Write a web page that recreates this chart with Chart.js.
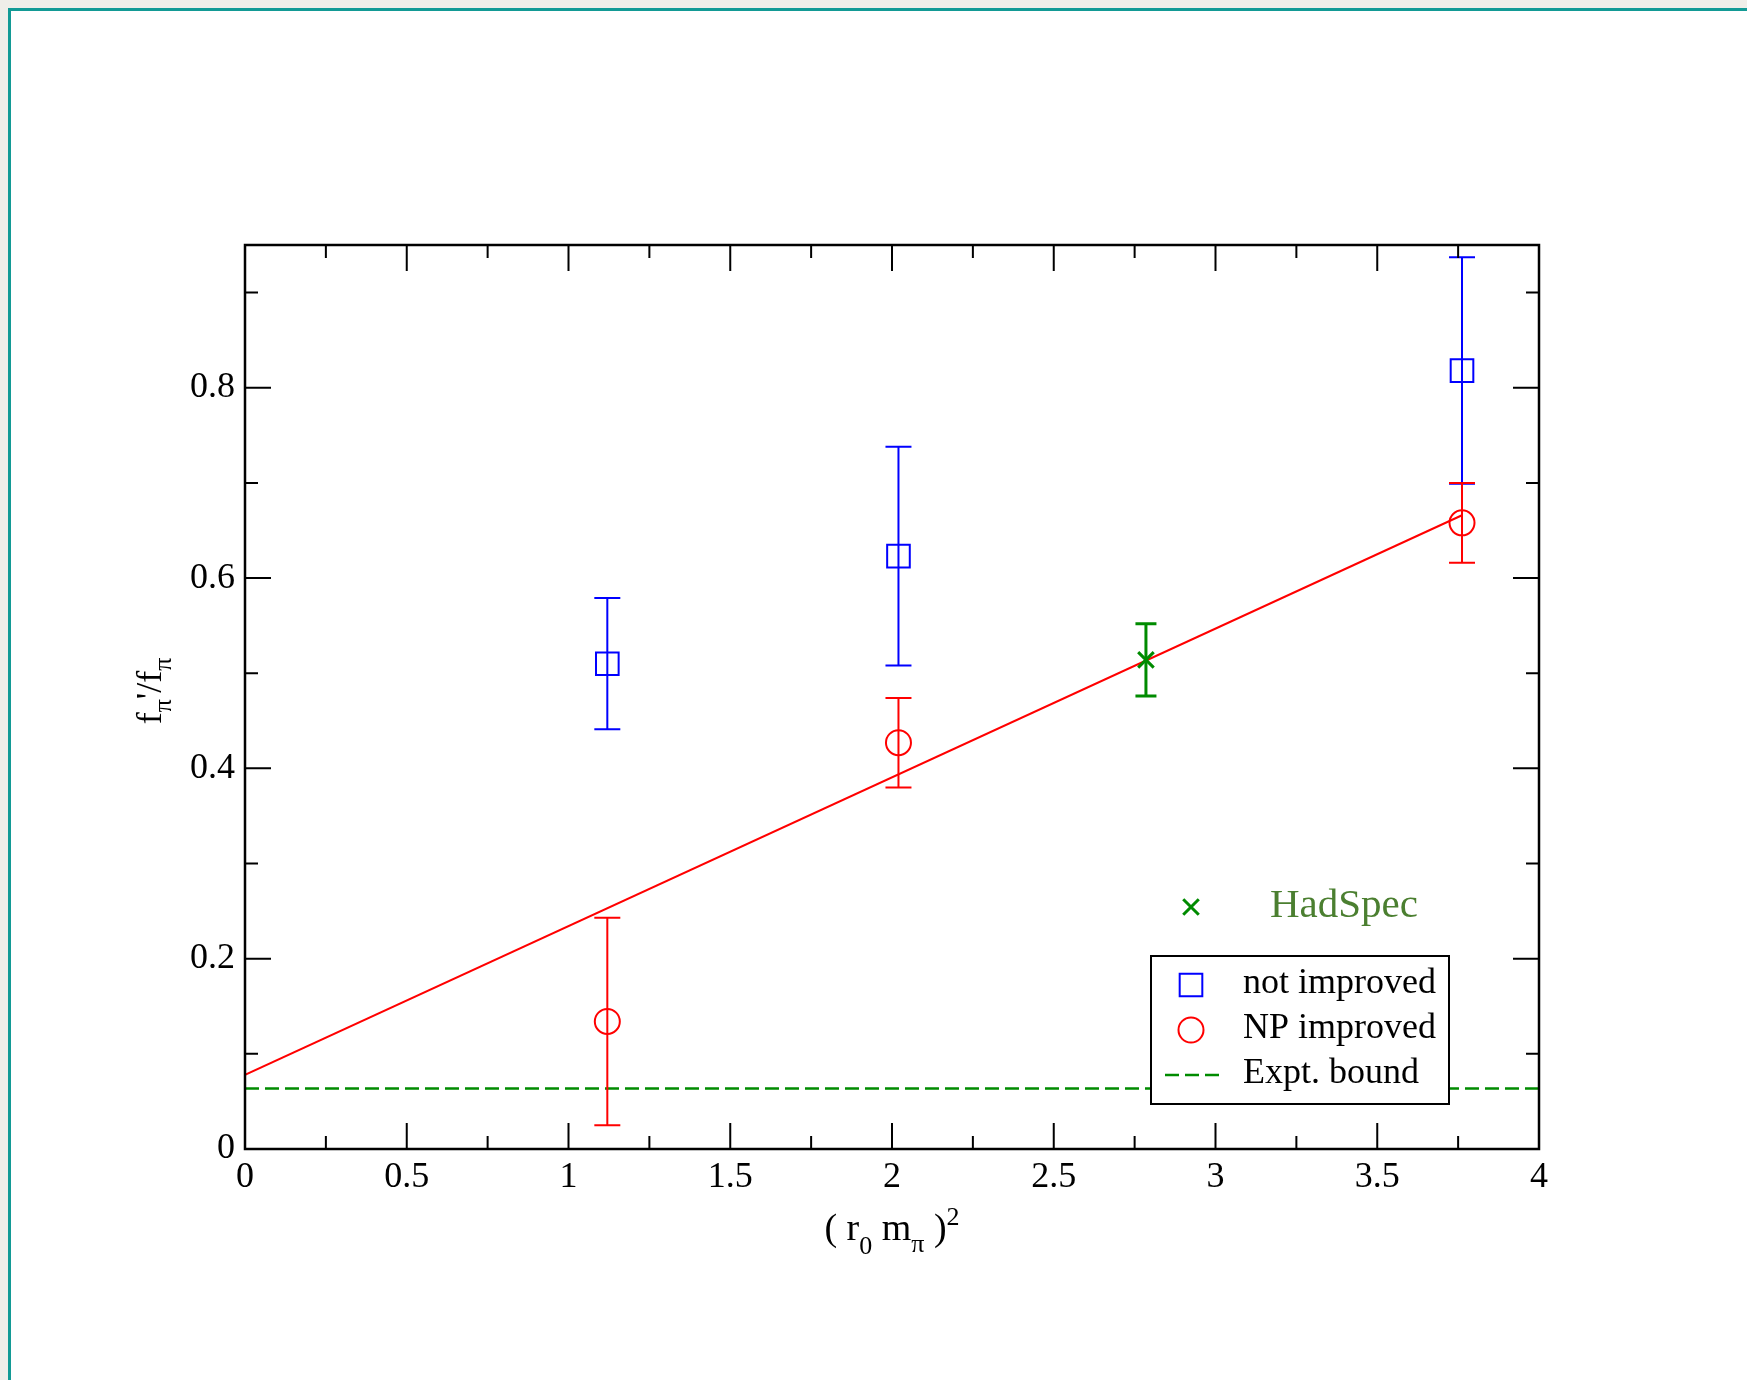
<!DOCTYPE html>
<html><head><meta charset="utf-8">
<script src="https://cdn.jsdelivr.net/npm/chart.js@4.4.0/dist/chart.umd.min.js"></script>
<style>
html,body{margin:0;padding:0;background:#f0eee9;width:1747px;height:1380px;overflow:hidden;}
#frame{position:absolute;left:8px;top:8px;width:1800px;height:1450px;background:#fff;border-left:3px solid #139a95;border-top:3px solid #139a95;}
#wrap{position:absolute;left:0;top:0;width:1747px;height:1380px;}
</style></head><body>
<div id="frame"></div>
<div id="wrap"><canvas id="c" width="1747" height="1380"></canvas></div>
<script>
// ---- data ----
const xTicks = [0, 0.5, 1, 1.5, 2, 2.5, 3, 3.5, 4];
const xMinorTicks = [0.25, 0.75, 1.25, 1.75, 2.25, 2.75, 3.25, 3.75];
const yTicks = [0, 0.2, 0.4, 0.6, 0.8];
const yMinorTicks = [0.1, 0.3, 0.5, 0.7, 0.9];

const notImprovedX = [1.12, 2.02, 3.762];
const notImprovedY = [0.510, 0.623, 0.818];
const notImprovedErr = [0.069, 0.115, 0.119];

const npImprovedX = [1.12, 2.02, 3.762];
const npImprovedY = [0.134, 0.427, 0.658];
const npImprovedErr = [0.109, 0.047, 0.042];

const hadSpecX = [2.785];
const hadSpecY = [0.514];
const hadSpecErr = [0.038];

const fitX = [0, 3.762];
const fitY = [0.078, 0.666];

const exptX = [0, 4];
const exptY = [0.0635, 0.0635];

const legendLabels = ['not improved', 'NP improved', 'Expt. bound'];
const annotationLabel = 'HadSpec';

// ---- helpers ----
const FONT = "'Liberation Serif', 'DejaVu Serif', serif";
const pts = (xs, ys) => xs.map((x, i) => ({x: x, y: ys[i]}));
const GREEN = '#008b00';

const errorBarPlugin = {
  id: 'errbars',
  afterDatasetsDraw(chart) {
    const {ctx, scales: {x, y}} = chart;
    chart.data.datasets.forEach(ds => {
      if (!ds.errors) return;
      ctx.save();
      ctx.strokeStyle = ds.borderColor;
      ctx.lineWidth = ds.errWidth || 2;
      const cw = ds.capWidth || 26;
      ds.data.forEach((p, i) => {
        const px = x.getPixelForValue(p.x);
        const top = y.getPixelForValue(p.y + ds.errors[i]);
        const bot = y.getPixelForValue(p.y - ds.errors[i]);
        ctx.beginPath();
        ctx.moveTo(px, top); ctx.lineTo(px, bot);
        ctx.moveTo(px - cw / 2, top); ctx.lineTo(px + cw / 2, top);
        ctx.moveTo(px - cw / 2, bot); ctx.lineTo(px + cw / 2, bot);
        ctx.stroke();
      });
      ctx.restore();
    });
  }
};

const framePlugin = {
  id: 'frame',
  afterDatasetsDraw(chart) {
    const {ctx, chartArea: a, scales: {x, y}} = chart;
    ctx.save();
    ctx.strokeStyle = '#000';
    ctx.lineWidth = 2;
    ctx.beginPath();
    const tick = (vals, len, horiz) => {
      vals.forEach(v => {
        if (horiz) {
          const px = x.getPixelForValue(v);
          ctx.moveTo(px, a.bottom); ctx.lineTo(px, a.bottom - len);
          ctx.moveTo(px, a.top); ctx.lineTo(px, a.top + len);
        } else {
          const py = y.getPixelForValue(v);
          ctx.moveTo(a.left, py); ctx.lineTo(a.left + len, py);
          ctx.moveTo(a.right, py); ctx.lineTo(a.right - len, py);
        }
      });
    };
    tick(xTicks, 26, true);
    tick(xMinorTicks, 13, true);
    tick(yTicks, 26, false);
    tick(yMinorTicks, 13, false);
    ctx.stroke();
    ctx.lineWidth = 2.5;
    ctx.strokeRect(a.left, a.top, a.right - a.left, a.bottom - a.top);
    ctx.restore();
  }
};

function drawParts(ctx, parts, startX, baseY) {
  let cx = startX;
  parts.forEach(p => {
    ctx.font = p.size + 'px ' + FONT;
    ctx.fillText(p.t, cx, baseY + (p.dy || 0));
    cx += ctx.measureText(p.t).width;
  });
}
function partsWidth(ctx, parts) {
  let w = 0;
  parts.forEach(p => { ctx.font = p.size + 'px ' + FONT; w += ctx.measureText(p.t).width; });
  return w;
}

const titlesPlugin = {
  id: 'titles',
  afterDraw(chart) {
    const {ctx, chartArea: a} = chart;
    ctx.save();
    ctx.fillStyle = '#000';
    ctx.textBaseline = 'alphabetic';
    ctx.textAlign = 'left';
    // x title
    const xp = [
      {t: '( r', size: 38}, {t: '0', size: 26, dy: 14}, {t: ' m', size: 38},
      {t: 'π', size: 26, dy: 12}, {t: ' )', size: 38}, {t: '2', size: 26, dy: -15}
    ];
    const cx = (a.left + a.right) / 2;
    drawParts(ctx, xp, cx - partsWidth(ctx, xp) / 2, 1240);
    // y title
    const yp = [
      {t: 'f', size: 36}, {t: 'π', size: 26, dy: 10}, {t: '\'/f', size: 36}, {t: 'π', size: 26, dy: 10}
    ];
    ctx.translate(161, (a.top + a.bottom) / 2 - 6);
    ctx.rotate(-Math.PI / 2);
    drawParts(ctx, yp, -partsWidth(ctx, yp) / 2, 0);
    ctx.restore();
  }
};

const legendPlugin = {
  id: 'customLegend',
  afterDraw(chart) {
    const {ctx} = chart;
    const ds = chart.data.datasets;
    ctx.save();
    // box
    ctx.fillStyle = '#fff';
    ctx.fillRect(1151, 956, 298, 148);
    ctx.strokeStyle = '#000';
    ctx.lineWidth = 2;
    ctx.strokeRect(1151, 956, 298, 148);
    // symbols
    const sym = (d, x, y) => {
      ctx.strokeStyle = d.borderColor;
      ctx.fillStyle = 'rgba(0,0,0,0)';
      ctx.lineWidth = d.borderWidth;
      Chart.helpers.drawPoint(ctx, {pointStyle: d.pointStyle, radius: d.pointRadius, rotation: 0, borderWidth: d.borderWidth}, x, y);
    };
    sym(ds[0], 1191, 985);
    sym(ds[1], 1191, 1030);
    ctx.strokeStyle = ds[4].borderColor;
    ctx.lineWidth = ds[4].borderWidth;
    ctx.setLineDash(ds[4].borderDash);
    ctx.beginPath(); ctx.moveTo(1165, 1075); ctx.lineTo(1219, 1075); ctx.stroke();
    ctx.setLineDash([]);
    ctx.fillStyle = '#000';
    ctx.font = '36px ' + FONT;
    ctx.textBaseline = 'alphabetic';
    ctx.textAlign = 'left';
    ctx.fillText(legendLabels[0], 1243, 993);
    ctx.fillText(legendLabels[1], 1243, 1038);
    ctx.fillText(legendLabels[2], 1243, 1083);
    // HadSpec annotation
    sym(ds[2], 1191, 907);
    ctx.fillStyle = '#4b7f30';
    ctx.font = '41px ' + FONT;
    ctx.fillText(annotationLabel, 1270, 917);
    ctx.restore();
  }
};

new Chart(document.getElementById('c'), {
  type: 'scatter',
  data: {
    datasets: [
      {label: legendLabels[0], data: pts(notImprovedX, notImprovedY), pointStyle: 'rect', pointRadius: 16,
       borderColor: '#0000ff', backgroundColor: 'rgba(0,0,0,0)', borderWidth: 2, errors: notImprovedErr, capWidth: 26, errWidth: 2},
      {label: legendLabels[1], data: pts(npImprovedX, npImprovedY), pointStyle: 'circle', pointRadius: 12.5,
       borderColor: '#ff0000', backgroundColor: 'rgba(0,0,0,0)', borderWidth: 2, errors: npImprovedErr, capWidth: 26, errWidth: 2},
      {label: annotationLabel, data: pts(hadSpecX, hadSpecY), pointStyle: 'crossRot', pointRadius: 11,
       borderColor: GREEN, backgroundColor: GREEN, borderWidth: 3, errors: hadSpecErr, capWidth: 21, errWidth: 3},
      {label: 'fit', data: pts(fitX, fitY), showLine: true, pointRadius: 0, borderColor: '#ff0000', borderWidth: 2, fill: false},
      {label: legendLabels[2], data: pts(exptX, exptY), showLine: true, pointRadius: 0, borderColor: GREEN,
       borderWidth: 2.5, borderDash: [14, 6], fill: false}
    ]
  },
  options: {
    responsive: false,
    animation: false,
    devicePixelRatio: 1,
    layout: {padding: {top: 245, right: 208, left: 0, bottom: 0}},
    plugins: {legend: {display: false}, tooltip: {enabled: false}},
    scales: {
      x: {
        type: 'linear', min: 0, max: 4,
        afterBuildTicks: s => { s.ticks = xTicks.map(v => ({value: v})); },
        afterFit: s => { s.height = 231; },
        grid: {drawOnChartArea: false, drawTicks: false, color: 'rgba(0,0,0,0)'},
        border: {display: false},
        ticks: {color: '#000', font: {family: FONT, size: 36}, padding: 7, maxRotation: 0, autoSkip: false,
                callback: v => String(v)}
      },
      y: {
        type: 'linear', min: 0, max: 0.95,
        afterBuildTicks: s => { s.ticks = yTicks.map(v => ({value: v})); },
        afterFit: s => { s.width = 245; },
        grid: {drawOnChartArea: false, drawTicks: false, color: 'rgba(0,0,0,0)'},
        border: {display: false},
        ticks: {color: '#000', font: {family: FONT, size: 36}, padding: 10, autoSkip: false,
                callback: v => String(v)}
      }
    }
  },
  plugins: [errorBarPlugin, framePlugin, titlesPlugin, legendPlugin]
});
</script>
</body></html>
